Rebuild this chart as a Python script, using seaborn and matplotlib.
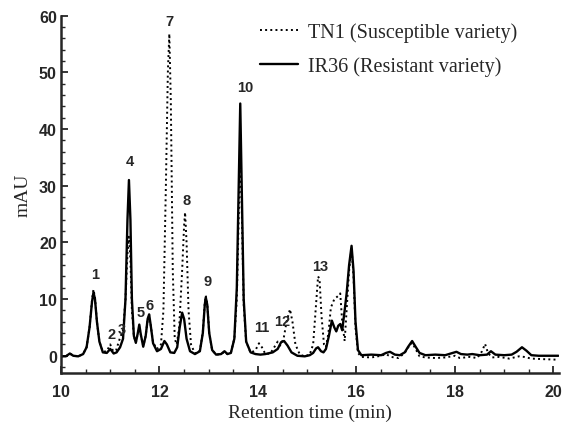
import matplotlib
matplotlib.use('Agg')
import matplotlib.pyplot as plt
from matplotlib.lines import Line2D
from matplotlib.ticker import MultipleLocator
import seaborn as sns
import pandas as pd

# Chromatogram traces (time in min, absorbance in mAU)
time_ir36 = [10.00, 10.10, 10.18, 10.25, 10.35, 10.45, 10.52, 10.58, 10.63, 10.66,
             10.69, 10.73, 10.78, 10.85, 10.93, 11.00, 11.07, 11.13, 11.20, 11.26,
             11.31, 11.35, 11.38, 11.41, 11.44, 11.48, 11.52, 11.56, 11.59, 11.62,
             11.67, 11.72, 11.76, 11.79, 11.82, 11.87, 11.95, 12.03, 12.10, 12.15,
             12.22, 12.30, 12.36, 12.41, 12.46, 12.50, 12.55, 12.62, 12.72, 12.82,
             12.88, 12.92, 12.94, 12.97, 13.01, 13.07, 13.15, 13.25, 13.32, 13.38,
             13.45, 13.52, 13.57, 13.61, 13.64, 13.67, 13.71, 13.76, 13.85, 13.95,
             14.05, 14.15, 14.30, 14.40, 14.47, 14.53, 14.60, 14.68, 14.80, 14.95,
             15.05, 15.12, 15.18, 15.22, 15.28, 15.33, 15.38, 15.44, 15.50, 15.55,
             15.59, 15.63, 15.67, 15.71, 15.76, 15.80, 15.85, 15.90, 15.94, 15.98,
             16.03, 16.10, 16.30, 16.50, 16.60, 16.68, 16.78, 16.88, 16.98, 17.05,
             17.13, 17.20, 17.28, 17.40, 17.60, 17.80, 17.95, 18.03, 18.12, 18.25,
             18.35, 18.50, 18.65, 18.73, 18.82, 19.00, 19.15, 19.25, 19.36, 19.45,
             19.55, 19.70, 20.10]
mau_ir36 = [-0.1, -0.1, 0.4, 0.0, -0.1, 0.3, 1.5, 5.0, 9.5, 11.2,
            10.0, 6.0, 2.5, 0.6, 0.5, 1.2, 0.4, 0.6, 1.5, 3.0,
            10.0, 24.0, 31.0, 24.0, 10.0, 3.5, 2.3, 4.0, 5.5, 3.8,
            1.6, 3.5, 6.5, 7.3, 5.5, 2.2, 0.8, 1.2, 2.6, 2.0,
            0.6, 0.5, 1.5, 5.0, 7.6, 6.5, 3.0, 0.8, 0.3, 0.8,
            4.0, 9.0, 10.3, 9.0, 4.0, 1.0, 0.2, 0.3, 0.8, 0.3,
            0.5, 3.0, 12.0, 30.0, 44.5, 30.0, 10.0, 2.5, 0.6, 0.3,
            0.2, 0.3, 0.6, 1.2, 2.4, 2.6, 1.8, 0.6, 0.0, -0.1,
            0.1, 0.5, 1.3, 1.5, 0.8, 0.6, 1.2, 3.5, 6.2, 5.0,
            4.3, 5.3, 5.6, 4.5, 8.0, 11.0, 16.0, 19.4, 15.0, 6.0,
            1.0, 0.1, 0.2, 0.1, 0.5, 0.7, 0.2, 0.1, 0.6, 1.6,
            2.6, 1.6, 0.5, 0.1, 0.2, 0.1, 0.5, 0.7, 0.3, 0.2,
            0.3, 0.1, 0.2, 0.8, 0.2, 0.1, 0.2, 0.7, 1.5, 0.9,
            0.1, 0.0, 0.0]

time_tn1 = [10.00, 10.10, 10.18, 10.25, 10.35, 10.45, 10.52, 10.58, 10.63, 10.66,
            10.69, 10.73, 10.78, 10.85, 10.93, 11.00, 11.06, 11.12, 11.20, 11.26,
            11.31, 11.35, 11.38, 11.41, 11.44, 11.48, 11.52, 11.56, 11.59, 11.62,
            11.67, 11.72, 11.76, 11.79, 11.82, 11.87, 11.95, 12.03, 12.08, 12.13,
            12.17, 12.20, 12.23, 12.27, 12.31, 12.35, 12.40, 12.46, 12.50, 12.52,
            12.55, 12.59, 12.64, 12.72, 12.82, 12.88, 12.92, 12.94, 12.97, 13.01,
            13.07, 13.15, 13.25, 13.32, 13.38, 13.45, 13.52, 13.57, 13.61, 13.64,
            13.67, 13.71, 13.76, 13.85, 13.95, 14.02, 14.08, 14.15, 14.25, 14.33,
            14.40, 14.45, 14.52, 14.58, 14.65, 14.70, 14.76, 14.85, 14.95, 15.05,
            15.12, 15.17, 15.22, 15.25, 15.29, 15.34, 15.38, 15.43, 15.48, 15.55,
            15.62, 15.67, 15.71, 15.76, 15.80, 15.85, 15.90, 15.94, 15.98, 16.03,
            16.10, 16.30, 16.50, 16.60, 16.70, 16.85, 16.98, 17.05, 17.13, 17.20,
            17.28, 17.40, 17.60, 17.80, 18.00, 18.10, 18.30, 18.45, 18.55, 18.61,
            18.67, 18.75, 18.90, 19.10, 19.30, 19.40, 19.55, 19.80, 20.10]
mau_tn1 = [-0.1, -0.1, 0.4, 0.0, -0.1, 0.3, 1.5, 5.0, 9.8, 11.7,
           10.3, 6.0, 2.5, 0.7, 0.8, 2.0, 0.8, 1.0, 3.2, 4.5,
           10.0, 18.0, 21.0, 17.0, 8.0, 3.5, 2.3, 4.0, 5.3, 3.8,
           1.7, 3.5, 6.3, 7.0, 5.5, 2.3, 1.2, 2.0, 8.0, 30.0,
           50.0, 56.8, 45.0, 15.0, 3.0, 2.0, 5.0, 15.0, 23.0, 25.3,
           20.0, 8.0, 2.0, 0.4, 0.9, 4.2, 9.3, 10.6, 9.2, 4.0,
           1.0, 0.2, 0.3, 0.7, 0.3, 0.6, 3.0, 10.0, 25.0, 37.5,
           26.0, 9.0, 2.5, 0.5, 1.0, 2.2, 1.5, 0.3, 0.4, 1.5,
           2.5, 1.8, 3.0, 6.0, 8.2, 6.0, 2.0, 0.2, -0.1, 0.2,
           2.0, 8.0, 14.0, 13.5, 7.0, 2.0, 1.5, 4.0, 8.5, 10.0,
           10.5, 11.0, 6.0, 2.6, 8.0, 15.0, 19.0, 14.0, 5.0, 0.5,
           -0.2, -0.3, 0.0, 0.3, -0.2, -0.4, 0.5, 1.5, 2.3, 1.2,
           -0.1, -0.3, -0.4, -0.3, 0.0, -0.4, -0.2, -0.4, 0.8, 2.1,
           0.5, -0.3, -0.2, -0.5, -0.1, -0.2, -0.5, -0.6, -0.7]

# Peak numbers and where they sit (data units)
peak_names = ['1', '2', '3', '4', '5', '6', '7', '8', '9', '10', '11', '12', '13']
peak_time = [10.70, 11.02, 11.23, 11.40, 11.61, 11.80, 12.21, 12.56, 12.98, 13.74, 14.07, 14.49, 15.26]
peak_mau = [14.4, 3.8, 4.7, 34.3, 7.7, 8.9, 59.1, 27.5, 13.2, 47.5, 5.1, 6.2, 15.9]

df_ir36 = pd.DataFrame({'time': time_ir36, 'mau': mau_ir36})
df_tn1 = pd.DataFrame({'time': time_tn1, 'mau': mau_tn1})

sns.set_style('ticks')
plt.rcParams['font.family'] = ['Liberation Sans', 'DejaVu Sans']

fig = plt.figure(figsize=(5.62, 4.27), dpi=100)
ax = fig.add_axes([0.1085, 0.124, 0.886, 0.837])

sns.lineplot(data=df_tn1, x='time', y='mau', ax=ax, color='black',
             linestyle=':', linewidth=1.4, estimator=None, sort=False)
sns.lineplot(data=df_ir36, x='time', y='mau', ax=ax, color='black',
             linewidth=1.7, estimator=None, sort=False)

for name, t, v in zip(peak_names, peak_time, peak_mau):
    ax.text(t, v, name, ha='center', va='center', fontsize=10.5, fontweight='bold')

ax.set_xlim(10, 20.11)
ax.set_ylim(-3.05, 60)
ax.xaxis.set_major_locator(MultipleLocator(2))
ax.xaxis.set_minor_locator(MultipleLocator(0.5))
ax.yaxis.set_major_locator(MultipleLocator(10))
ax.yaxis.set_minor_locator(MultipleLocator(2))
ax.tick_params(which='major', direction='in', length=5, width=1.3, labelsize=11.5)
ax.tick_params(axis='y', which='major', pad=3)
ax.tick_params(axis='x', which='major', pad=8)
ax.tick_params(which='minor', direction='in', length=3, width=1.0)
for lab in ax.get_xticklabels() + ax.get_yticklabels():
    lab.set_fontweight('bold')

sns.despine(ax=ax)
for side in ['left', 'bottom']:
    ax.spines[side].set_linewidth(1.8)

serif = ['Liberation Serif', 'DejaVu Serif']
ax.set_xlabel('Retention time (min)', fontsize=14, family=serif, labelpad=3)
ax.set_ylabel('mAU', fontsize=14, family=serif, labelpad=5)

handles = [Line2D([], [], color='black', linestyle=':', linewidth=1.4),
           Line2D([], [], color='black', linewidth=1.7)]
ax.legend(handles, ['TN1 (Susceptible variety)', 'IR36 (Resistant variety)'],
          loc='upper left', bbox_to_anchor=(0.40, 0.982), frameon=False,
          borderaxespad=0, borderpad=0, handlelength=1.9, handletextpad=0.5,
          labelspacing=0.7, prop={'family': serif, 'size': 14.5})

fig.savefig('out.png', dpi=100)
